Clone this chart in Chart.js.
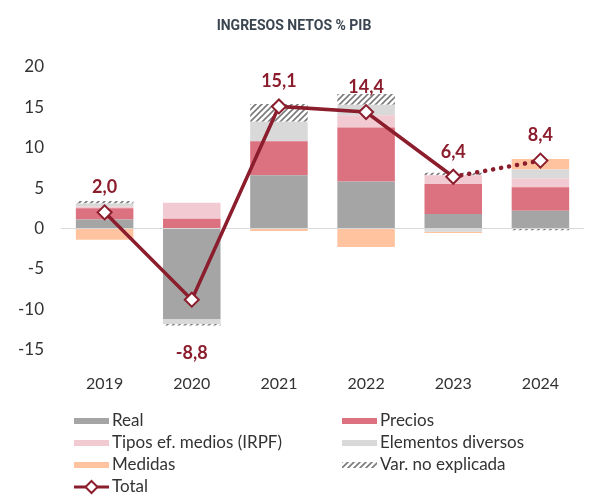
<!DOCTYPE html>
<html>
<head>
<meta charset="utf-8">
<script src="https://cdn.jsdelivr.net/npm/chart.js@4.4.1/dist/chart.umd.min.js"></script>
<style>
  html, body { margin: 0; padding: 0; background: #fff; }
  #wrap { width: 593px; height: 501px; }
</style>
</head>
<body>
<div id="wrap"><canvas id="ingresos" width="593" height="501"></canvas></div>
<script>
// datos
var years = ['2019', '2020', '2021', '2022', '2023', '2024'];
var real = [1.1, -11.2, 6.6, 5.8, 1.8, 2.2];
var precios = [1.4, 1.2, 4.2, 6.7, 3.7, 2.9];
var tipos = [0.2, 2.0, 0.0, 1.5, 1.1, 1.1];
var elementos = [0.4, -0.6, 2.4, 1.3, -0.4, 1.1];
var medidas = [-1.4, 0.0, -0.3, -2.3, -0.15, 1.3];
var varNoExpl = [0.3, -0.2, 2.2, 1.35, 0.3, -0.2];
var total = [2.0, -8.8, 15.1, 14.4, 6.4, 8.4];
var yTicks = [-15, -10, -5, 0, 5, 10, 15, 20];

var rojo = '#8b1d2d';

function hatch() {
    var c = document.createElement('canvas');
    c.width = 6; c.height = 6;
    var g = c.getContext('2d');
    g.fillStyle = '#ffffff';
    g.fillRect(0, 0, 6, 6);
    g.strokeStyle = '#7a7a7a';
    g.lineWidth = 1.6;
    g.beginPath();
    g.moveTo(-1, 7); g.lineTo(7, -1);
    g.moveTo(-1, 1); g.lineTo(1, -1);
    g.moveTo(5, 7); g.lineTo(7, 5);
    g.stroke();
    return g.createPattern(c, 'repeat');
}
var rayado = hatch();

function bar(label, data, color) {
    return {
        type: 'bar', label: label, data: data, backgroundColor: color,
        stack: 's', order: 1, barPercentage: 0.66, categoryPercentage: 1.0
    };
}

var labelsPlugin = {
    id: 'totalLabels',
    afterDatasetsDraw: function(chart) {
        var ctx = chart.ctx;
        var meta = chart.getDatasetMeta(6);
        var y = chart.scales.y;
        ctx.save();
        ctx.font = 'bold 18px Lato';
        ctx.fillStyle = rojo;
        ctx.textAlign = 'center';
        ctx.textBaseline = 'middle';
        meta.data.forEach(function(pt, i) {
            var v = total[i];
            var py;
            if (v < 0) {
                var neg = 0;
                chart.data.datasets.slice(0, 6).forEach(function(ds) { if (ds.data[i] < 0) neg += ds.data[i]; });
                py = y.getPixelForValue(neg) + 28;
            } else {
                py = pt.y - 25;
            }
            ctx.fillText(v.toFixed(1).replace('.', ','), pt.x, py);
        });
        ctx.restore();
    }
};

var legendPlugin = {
    id: 'gridLegend',
    afterDraw: function(chart) {
        var ctx = chart.ctx;
        var ds = chart.data.datasets;
        var cols = [74, 342];
        var rows = [421, 443, 465, 487];
        ctx.save();
        ctx.font = '17px Lato';
        ctx.textBaseline = 'middle';
        [0, 1, 2, 3, 4, 5].forEach(function(k, n) {
            var x = cols[n % 2], yy = rows[Math.floor(n / 2)];
            ctx.fillStyle = ds[k].backgroundColor;
            ctx.fillRect(x, yy - 3, 35, 6);
            ctx.fillStyle = '#333333';
            ctx.fillText(ds[k].label, x + 38, yy);
        });
        var x = cols[0], yy = rows[3];
        ctx.strokeStyle = rojo;
        ctx.lineWidth = 3;
        ctx.beginPath(); ctx.moveTo(x, yy); ctx.lineTo(x + 35, yy); ctx.stroke();
        ctx.fillStyle = '#fff';
        ctx.lineWidth = 2;
        ctx.beginPath();
        ctx.moveTo(x + 17.5, yy - 6); ctx.lineTo(x + 23.5, yy); ctx.lineTo(x + 17.5, yy + 6); ctx.lineTo(x + 11.5, yy);
        ctx.closePath(); ctx.fill(); ctx.stroke();
        ctx.fillStyle = '#333333';
        ctx.fillText(ds[6].label, x + 38, yy);
        ctx.restore();
    }
};

var chart = new Chart(document.getElementById('ingresos'), {
    data: {
        labels: years,
        datasets: [
            bar('Real', real, '#a5a5a5'),
            bar('Precios', precios, '#dc717f'),
            bar('Tipos ef. medios (IRPF)', tipos, '#f2cbd2'),
            bar('Elementos diversos', elementos, '#d9d9d9'),
            bar('Medidas', medidas, '#ffc49f'),
            bar('Var. no explicada', varNoExpl, rayado),
            {
                type: 'line', label: 'Total', data: total, order: 0,
                borderColor: rojo, borderWidth: 3.5, borderCapStyle: 'round',
                pointStyle: 'rectRot', pointRadius: 7, pointBorderWidth: 2,
                pointBackgroundColor: '#ffffff', pointBorderColor: rojo,
                segment: {
                    borderDash: function(c) { return c.p0DataIndex === 4 ? [0.1, 8] : undefined; },
                    borderWidth: function(c) { return c.p0DataIndex === 4 ? 4.5 : undefined; }
                }
            }
        ]
    },
    options: {
        responsive: false,
        animation: false,
        layout: { padding: { left: 1, right: 6, bottom: 92 } },
        plugins: {
            legend: { display: false },
            tooltip: { enabled: false },
            title: {
                display: true, text: 'INGRESOS NETOS % PIB',
                color: '#3a4550', font: { family: 'Roboto', size: 14, weight: 'bold' },
                padding: { top: 18, bottom: 32 }
            }
        },
        scales: {
            x: {
                stacked: true,
                grid: { display: false },
                border: { display: false },
                ticks: { color: '#333333', font: { family: 'Lato', size: 16 }, padding: 16 }
            },
            y: {
                stacked: true, min: -15, max: 20,
                afterBuildTicks: function(ax) { ax.ticks = yTicks.map(function(v) { return { value: v }; }); },
                grid: {
                    drawTicks: false,
                    color: function(c) { return c.tick && c.tick.value === 0 ? '#d9d9d9' : 'rgba(0,0,0,0)'; }
                },
                border: { display: false },
                ticks: { color: '#333333', font: { family: 'Lato', size: 17 }, padding: 17 }
            }
        }
    },
    plugins: [labelsPlugin, legendPlugin]
});
</script>
</body>
</html>
